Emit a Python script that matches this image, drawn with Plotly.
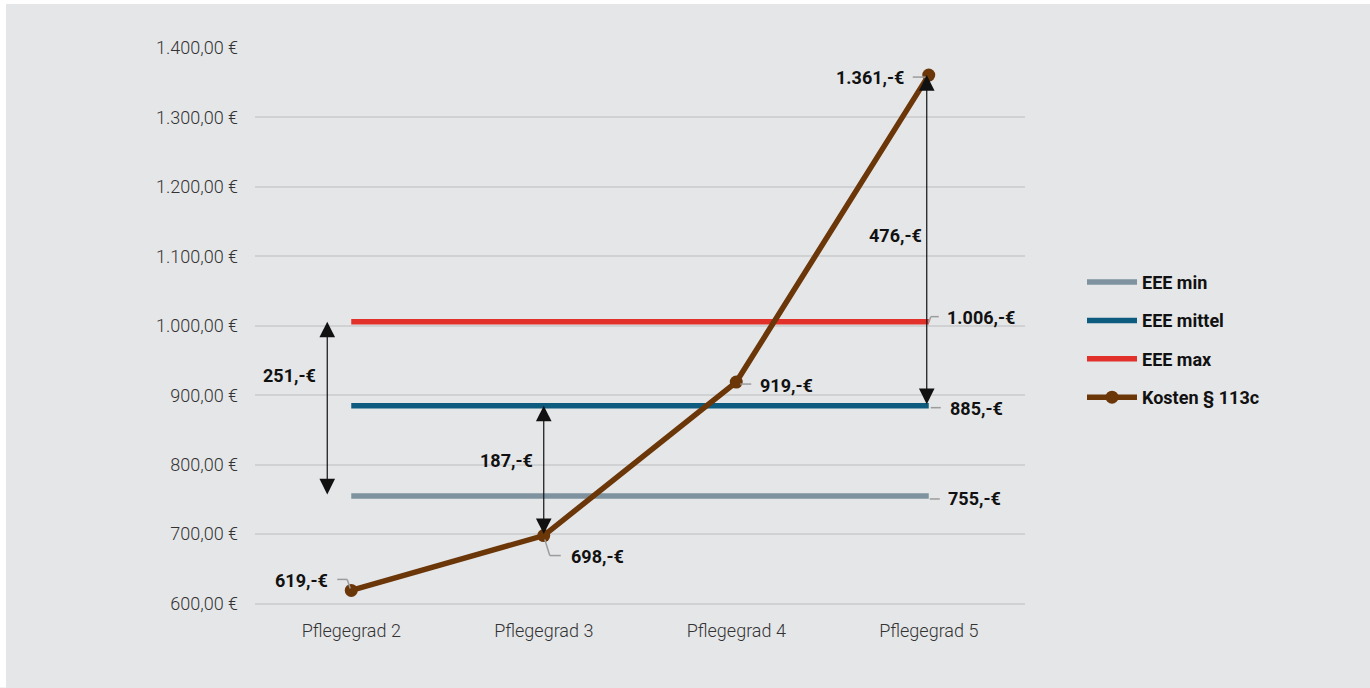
import plotly.graph_objects as go

# ---- data -------------------------------------------------------------
categories = ["Pflegegrad 2", "Pflegegrad 3", "Pflegegrad 4", "Pflegegrad 5"]
eee_min = [755, 755, 755, 755]
eee_mittel = [885, 885, 885, 885]
eee_max = [1006, 1006, 1006, 1006]
kosten_113c = [619, 698, 919, 1361]

y_tickvals = [600, 700, 800, 900, 1000, 1100, 1200, 1300, 1400]
y_ticktext = ["600,00 €", "700,00 €", "800,00 €", "900,00 €", "1.000,00 €",
              "1.100,00 €", "1.200,00 €", "1.300,00 €", "1.400,00 €"]

series_names = ["EEE min", "EEE mittel", "EEE max", "Kosten § 113c"]

# ---- style ------------------------------------------------------------
BG = "#e5e6e8"
GRID = "#d0d1d3"
LEADER = "#9c9c9c"
COL_MIN = "#7e939f"
COL_MID = "#0d5c80"
COL_MAX = "#e2302a"
COL_KOSTEN = "#6b3608"
FONT = "Roboto"

W, H = 1370, 688
Y_RANGE = [598, 1400]          # a little room so the 600 grid line is drawn
ML, MR, MT = 255, 345, 48
PX_PER_UNIT = 556 / 800
MB = H - MT - (Y_RANGE[1] - Y_RANGE[0]) * PX_PER_UNIT
PW, PH = W - ML - MR, H - MT - MB


def euro(v):
    return f"{v:,}".replace(",", ".") + ",-€"


def px_x(p):
    return (p - ML) / PW


def px_y(p):
    return (H - MB - p) / PH


fig = go.Figure()

for name, vals, col in [
    (series_names[0], eee_min, COL_MIN),
    (series_names[1], eee_mittel, COL_MID),
    (series_names[2], eee_max, COL_MAX),
]:
    fig.add_trace(go.Scatter(
        x=categories, y=vals, name=name, mode="lines",
        line=dict(color=col, width=5.5), legendgroup=name,
        hoverinfo="skip", cliponaxis=False,
    ))

fig.add_trace(go.Scatter(
    x=categories, y=kosten_113c, name=series_names[3], mode="lines+markers",
    line=dict(color=COL_KOSTEN, width=5.5),
    marker=dict(color=COL_KOSTEN, size=13),
    legendgroup=series_names[3], hoverinfo="skip", cliponaxis=False,
))

shapes = []
annotations = []

# value labels with small leader lines (offsets in pixels, y up)
label_specs = [
    # (category index, value, text anchor, dx, dy, leader polyline)
    (0, kosten_113c[0], "right", -21, 10, [(-14, 11), (-4, 11), (-1, 2)]),
    (1, kosten_113c[1], "left", 25, -21, [(1, -4), (6, -20), (17, -20)]),
    (2, kosten_113c[2], "left", 22, -3, [(4, -2), (15, -2)]),
    (3, kosten_113c[3], "right", -23, -2, [(-16, -2), (-3, -2)]),
    (3, eee_max[3], "left", 16, 4, [(0, -1), (2, 5), (10, 5)]),
    (3, eee_mittel[3], "left", 19, -3, [(2, -2), (12, -2)]),
    (3, eee_min[3], "left", 17, -3, [(1, -3), (11, -3)]),
]
for ci, val, anchor, dx, dy, pts in label_specs:
    annotations.append(dict(
        x=ci, y=val, xref="x", yref="y", text=euro(val), showarrow=False,
        xanchor=anchor, yanchor="middle", xshift=dx, yshift=dy,
        font=dict(family=FONT, size=18, color="#111111", weight=700),
    ))
    for (x0, y0), (x1, y1) in zip(pts[:-1], pts[1:]):
        shapes.append(dict(
            type="line", xref="x", yref="y",
            xsizemode="pixel", ysizemode="pixel",
            xanchor=ci, yanchor=val, x0=x0, y0=y0, x1=x1, y1=y1,
            line=dict(color=LEADER, width=1.5), layer="above",
        ))

# double-headed difference arrows
diff_specs = [
    # (category index, upper value, lower value, arrow x shift, label dx, label dy)
    (0, eee_max[0], eee_min[0], -24, -33, 33),
    (1, eee_mittel[1], kosten_113c[1], 0, -9, 10),
    (3, kosten_113c[3], eee_mittel[3], -2, -5, 5),
]
for ci, top, bottom, shift, ldx, ldy in diff_specs:
    annotations.append(dict(
        x=ci, y=top, ax=ci, ay=bottom, xref="x", yref="y", axref="x", ayref="y",
        text="", showarrow=True, arrowside="end+start",
        arrowhead=2, startarrowhead=2, arrowsize=2.6, startarrowsize=2.6,
        arrowwidth=1.2, arrowcolor="#111111", standoff=0, startstandoff=0,
        xshift=shift,
    ))
    annotations.append(dict(
        x=ci, y=(top + bottom) / 2, xref="x", yref="y", text=euro(top - bottom),
        showarrow=False, xanchor="right", yanchor="middle",
        xshift=ldx, yshift=ldy,
        font=dict(family=FONT, size=18, color="#111111", weight=700),
    ))

# thin white frame at top and left edge of the page
shapes.append(dict(type="rect", xref="paper", yref="paper",
                   x0=px_x(0), x1=px_x(W), y0=px_y(4), y1=px_y(0),
                   fillcolor="white", line=dict(width=0), layer="below"))
shapes.append(dict(type="rect", xref="paper", yref="paper",
                   x0=px_x(0), x1=px_x(6), y0=px_y(H), y1=px_y(0),
                   fillcolor="white", line=dict(width=0), layer="below"))

fig.update_layout(
    width=W, height=H, autosize=False,
    margin=dict(l=ML, r=MR, t=MT, b=MB, pad=0),
    paper_bgcolor=BG, plot_bgcolor=BG,
    font=dict(family=FONT, color="#333333"),
    showlegend=True,
    legend=dict(
        x=px_x(1082), y=px_y(340), xanchor="left", yanchor="middle",
        bgcolor="rgba(0,0,0,0)", tracegroupgap=12, itemwidth=50,
        font=dict(family=FONT, size=18, color="#111111", weight=700),
        traceorder="grouped",
    ),
    xaxis=dict(
        type="category", range=[-0.5, 3.5], showgrid=False, zeroline=False,
        showline=False, ticks="", ticklabelstandoff=13,
        tickfont=dict(family=FONT, size=18, color="#333333", weight=300),
        fixedrange=True,
    ),
    yaxis=dict(
        range=Y_RANGE, tickvals=y_tickvals, ticktext=y_ticktext,
        showgrid=True, gridcolor=GRID, gridwidth=1.5, zeroline=False,
        showline=False, ticks="", ticklabelstandoff=16,
        tickfont=dict(family=FONT, size=18, color="#333333", weight=300),
        fixedrange=True,
    ),
    shapes=shapes,
    annotations=annotations,
)

fig.write_html("out.html")
